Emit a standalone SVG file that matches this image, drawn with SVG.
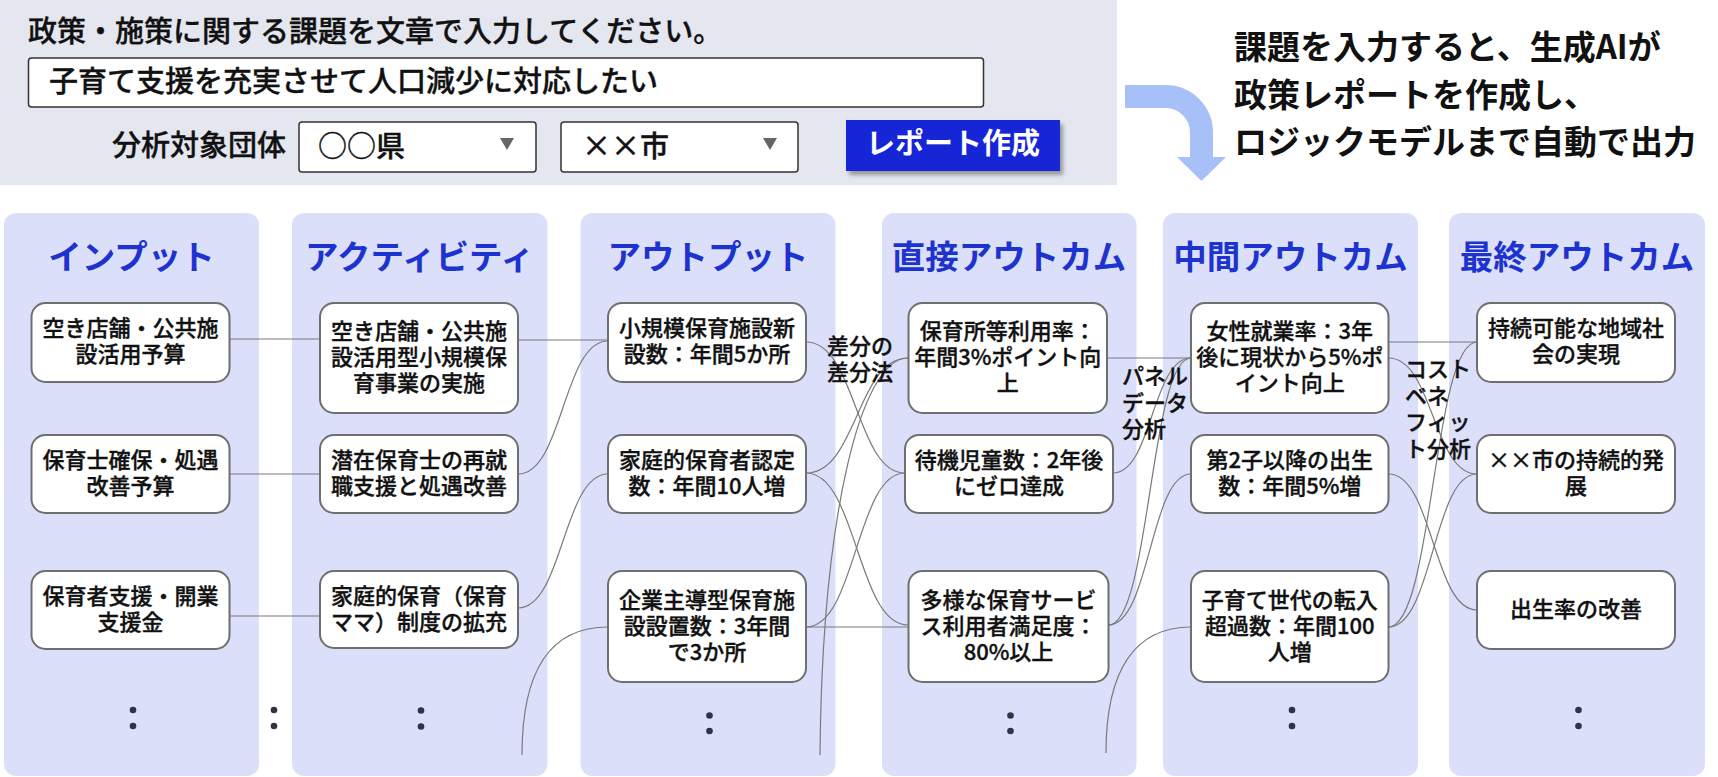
<svg xmlns="http://www.w3.org/2000/svg" width="1718" height="777" viewBox="0 0 1718 777">
<defs>
<style>
text{font-family:"Noto Sans CJK JP","Noto Sans",sans-serif;dominant-baseline:central}
tspan{dominant-baseline:central}
.panel{fill:#e4e7ef}
.col{fill:#dcdff9}
.hdr{font-size:33.5px;font-weight:700;fill:#1c33cf;text-anchor:middle}
.node rect{fill:#ffffff;stroke:#6f6f6f;stroke-width:2}
.nt{font-size:22px;font-weight:500;fill:#111111;stroke:#111111;stroke-width:0.35;text-anchor:middle}
.lbl{font-size:22px;font-weight:500;fill:#111111;stroke:#111111;stroke-width:0.35;text-anchor:start}
.edge{fill:none;stroke:#7a7a7a;stroke-width:1.2}
.dot{fill:#2f3343}
.ui{font-size:29px;font-weight:500;fill:#111111;stroke:#111111;stroke-width:0.35}
.btn{font-size:29px;font-weight:700;fill:#ffffff;text-anchor:middle}
.box{fill:#ffffff;stroke:#333333;stroke-width:1.5}
.tri{fill:#666666}
.big{font-size:33px;font-weight:700;fill:#111111}
</style>
<filter id="sh" x="-20%" y="-20%" width="140%" height="160%">
<feDropShadow dx="3" dy="4" stdDeviation="2" flood-color="#000000" flood-opacity="0.35"/>
</filter>
</defs>
<rect width="1718" height="777" fill="#ffffff"/>

<g id="input-panel">
<rect class="panel" x="0" y="0" width="1117" height="185"/>
<text class="ui" x="28" y="29">政策・施策に関する課題を文章で入力してください。</text>
<rect class="box" x="28.5" y="58" width="955" height="49" rx="3"/>
<text class="ui" x="49" y="78.5">子育て支援を充実させて人口減少に対応したい</text>
<text class="ui" x="286" y="143" text-anchor="end">分析対象団体</text>
<rect class="box" x="299" y="122" width="237" height="50" rx="3"/>
<text class="ui" x="318" y="144">○○県</text>
<polygon class="tri" points="500,138 514,138 507,150"/>
<rect class="box" x="561" y="122" width="237" height="50" rx="3"/>
<text class="ui" x="582" y="144">××市</text>
<polygon class="tri" points="763,138 777,138 770,150"/>
<rect x="846" y="120" width="214" height="51" fill="#1226d6" filter="url(#sh)"/>
<text class="btn" x="953" y="141">レポート作成</text>
</g>

<g id="flow-arrow">
<path d="M1125,96.5 H1165.5 A36,36 0 0 1 1201.5,132.5 V158" fill="none" stroke="#a8c0f8" stroke-width="23"/>
<polygon points="1177,157 1226,157 1201.5,181" fill="#a8c0f8"/>
</g>

<g id="caption">
<text class="big" x="1234" y="45">課題を入力すると、生成AIが</text>
<text class="big" x="1234" y="92.5">政策レポートを作成し、</text>
<text class="big" x="1234" y="140">ロジックモデルまで自動で出力</text>
</g>

<g id="columns">
<rect class="col" x="4" y="213" width="255" height="563" rx="12"/>
<rect class="col" x="292" y="213" width="255.5" height="563" rx="12"/>
<rect class="col" x="580.5" y="213" width="255" height="563" rx="12"/>
<rect class="col" x="882" y="213" width="254.5" height="563" rx="12"/>
<rect class="col" x="1163" y="213" width="255" height="563" rx="12"/>
<rect class="col" x="1449" y="213" width="256" height="563" rx="12"/>
<text class="hdr" x="131.5" y="254">インプット</text>
<text class="hdr" x="419.5" y="254">アクティビティ</text>
<text class="hdr" x="708" y="254">アウトプット</text>
<text class="hdr" x="1009" y="254">直接アウトカム</text>
<text class="hdr" x="1290.5" y="254">中間アウトカム</text>
<text class="hdr" x="1577" y="254">最終アウトカム</text>
</g>

<g id="connectors">
<path class="edge" d="M229.5,339 H320"/>
<path class="edge" d="M229.5,474 H320"/>
<path class="edge" d="M229.5,616 H320"/>
<path class="edge" d="M518,340 H608"/>
<path class="edge" d="M518,474 C563,474 563,341 608,341"/>
<path class="edge" d="M518,608 C563,608 563,474 608,474"/>
<path class="edge" d="M522,755 C522,670 550,627 608,627"/>
<path class="edge" d="M806,342 C856,342 856,473 905,473"/>
<path class="edge" d="M806,473 C857,473 857,358 908,358"/>
<path class="edge" d="M806,473 C857,473 857,625 908,625"/>
<path class="edge" d="M806,627 H908"/>
<path class="edge" d="M806,627 C856,627 856,473 905,473"/>
<path class="edge" d="M820,755 C822,520 860,358 908,358"/>
<path class="edge" d="M1107,358 H1191"/>
<path class="edge" d="M1113,473 C1152,473 1152,358 1191,358"/>
<path class="edge" d="M1108.5,625 C1150,625 1150,358 1191,358"/>
<path class="edge" d="M1108.5,625 C1150,625 1150,474 1191,474"/>
<path class="edge" d="M1106,753 C1106,670 1135,627 1191,627"/>
<path class="edge" d="M1388.5,342 H1477"/>
<path class="edge" d="M1388.5,358 C1433,358 1433,474 1477,474"/>
<path class="edge" d="M1388.5,474 C1433,474 1433,610 1477,610"/>
<path class="edge" d="M1388.5,627 C1433,627 1433,342 1477,342"/>
<path class="edge" d="M1388.5,627 C1433,627 1433,474 1477,474"/>
</g>

<g id="in1" class="node"><rect x="31.5" y="303" width="198" height="79" rx="14"/><text class="nt"><tspan x="130.5" y="326">空き店舗・公共施</tspan><tspan x="130.5" y="352">設活用予算</tspan></text></g>
<g id="in2" class="node"><rect x="31.5" y="435" width="198" height="78" rx="14"/><text class="nt"><tspan x="130.5" y="458">保育士確保・処遇</tspan><tspan x="130.5" y="484">改善予算</tspan></text></g>
<g id="in3" class="node"><rect x="31.5" y="571" width="198" height="78" rx="14"/><text class="nt"><tspan x="130.5" y="594">保育者支援・開業</tspan><tspan x="130.5" y="620">支援金</tspan></text></g>

<g id="act1" class="node"><rect x="320" y="303" width="198" height="110" rx="14"/><text class="nt"><tspan x="419" y="329">空き店舗・公共施</tspan><tspan x="419" y="355">設活用型小規模保</tspan><tspan x="419" y="381">育事業の実施</tspan></text></g>
<g id="act2" class="node"><rect x="320" y="435" width="198" height="78" rx="14"/><text class="nt"><tspan x="419" y="458">潜在保育士の再就</tspan><tspan x="419" y="484">職支援と処遇改善</tspan></text></g>
<g id="act3" class="node"><rect x="320" y="571" width="198" height="77" rx="14"/><text class="nt"><tspan x="419" y="594">家庭的保育（保育</tspan><tspan x="419" y="620">ママ）制度の拡充</tspan></text></g>

<g id="out1" class="node"><rect x="608" y="303" width="198" height="79" rx="14"/><text class="nt"><tspan x="707" y="326">小規模保育施設新</tspan><tspan x="707" y="352">設数：年間5か所</tspan></text></g>
<g id="out2" class="node"><rect x="608" y="435" width="198" height="78" rx="14"/><text class="nt"><tspan x="707" y="458">家庭的保育者認定</tspan><tspan x="707" y="484">数：年間10人増</tspan></text></g>
<g id="out3" class="node"><rect x="608" y="571" width="198" height="111" rx="14"/><text class="nt"><tspan x="707" y="597.5">企業主導型保育施</tspan><tspan x="707" y="623.5">設設置数：3年間</tspan><tspan x="707" y="649.5">で3か所</tspan></text></g>

<g id="dir1" class="node"><rect x="908.5" y="303" width="198.5" height="110" rx="14"/><text class="nt"><tspan x="1007.75" y="329">保育所等利用率：</tspan><tspan x="1007.75" y="355">年間3%ポイント向</tspan><tspan x="1007.75" y="381">上</tspan></text></g>
<g id="dir2" class="node"><rect x="905" y="435" width="208" height="78" rx="14"/><text class="nt"><tspan x="1009" y="458">待機児童数：2年後</tspan><tspan x="1009" y="484">にゼロ達成</tspan></text></g>
<g id="dir3" class="node"><rect x="908.5" y="571" width="200" height="111" rx="14"/><text class="nt"><tspan x="1008.5" y="597.5">多様な保育サービ</tspan><tspan x="1008.5" y="623.5">ス利用者満足度：</tspan><tspan x="1008.5" y="649.5">80%以上</tspan></text></g>

<g id="mid1" class="node"><rect x="1191" y="303" width="197.5" height="110" rx="14"/><text class="nt"><tspan x="1289.75" y="329">女性就業率：3年</tspan><tspan x="1289.75" y="355">後に現状から5%ポ</tspan><tspan x="1289.75" y="381">イント向上</tspan></text></g>
<g id="mid2" class="node"><rect x="1191" y="435" width="197.5" height="78" rx="14"/><text class="nt"><tspan x="1289.75" y="458">第2子以降の出生</tspan><tspan x="1289.75" y="484">数：年間5%増</tspan></text></g>
<g id="mid3" class="node"><rect x="1191" y="571" width="197.5" height="111" rx="14"/><text class="nt"><tspan x="1289.75" y="597.5">子育て世代の転入</tspan><tspan x="1289.75" y="623.5">超過数：年間100</tspan><tspan x="1289.75" y="649.5">人増</tspan></text></g>

<g id="fin1" class="node"><rect x="1477" y="303" width="198" height="79" rx="14"/><text class="nt"><tspan x="1576" y="326">持続可能な地域社</tspan><tspan x="1576" y="352">会の実現</tspan></text></g>
<g id="fin2" class="node"><rect x="1477" y="435" width="198" height="78" rx="14"/><text class="nt"><tspan x="1576" y="458">××市の持続的発</tspan><tspan x="1576" y="484">展</tspan></text></g>
<g id="fin3" class="node"><rect x="1477" y="571" width="198" height="78" rx="14"/><text class="nt"><tspan x="1576" y="607">出生率の改善</tspan></text></g>

<g id="edge-labels">
<text class="lbl"><tspan x="827" y="344">差分の</tspan><tspan x="827" y="370">差分法</tspan></text>
<text class="lbl"><tspan x="1122" y="374">パネル</tspan><tspan x="1122" y="400.5">データ</tspan><tspan x="1122" y="427">分析</tspan></text>
<text class="lbl"><tspan x="1405" y="367">コスト</tspan><tspan x="1405" y="393.5">ベネ</tspan><tspan x="1405" y="420">フィッ</tspan><tspan x="1405" y="446.5">ト分析</tspan></text>
</g>

<g id="ellipses">
<circle class="dot" cx="133" cy="710" r="3.3"/><circle class="dot" cx="133" cy="726" r="3.3"/>
<circle class="dot" cx="274" cy="710" r="3.3"/><circle class="dot" cx="274" cy="726" r="3.3"/>
<circle class="dot" cx="421" cy="710.5" r="3.3"/><circle class="dot" cx="421" cy="726.5" r="3.3"/>
<circle class="dot" cx="709.5" cy="715.5" r="3.3"/><circle class="dot" cx="709.5" cy="731" r="3.3"/>
<circle class="dot" cx="1010.5" cy="715.5" r="3.3"/><circle class="dot" cx="1010.5" cy="731" r="3.3"/>
<circle class="dot" cx="1292" cy="710" r="3.3"/><circle class="dot" cx="1292" cy="726" r="3.3"/>
<circle class="dot" cx="1578.5" cy="710" r="3.3"/><circle class="dot" cx="1578.5" cy="726" r="3.3"/>
</g>
</svg>
